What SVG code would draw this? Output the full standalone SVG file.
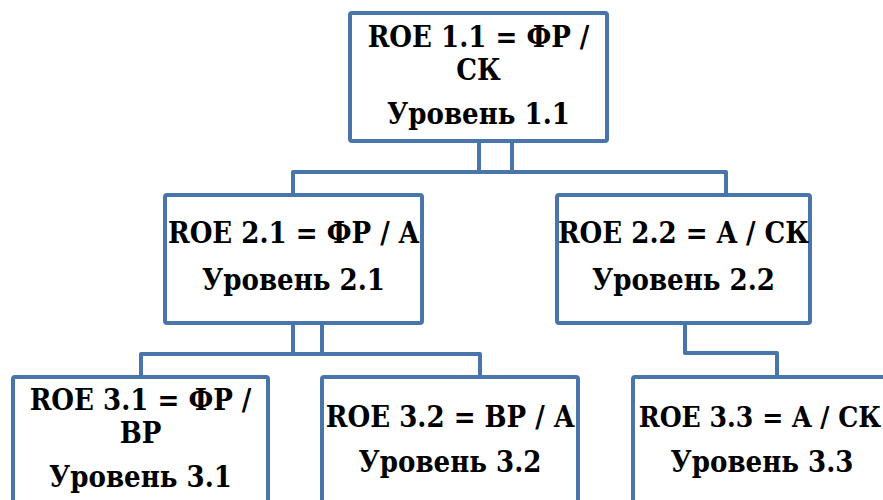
<svg xmlns="http://www.w3.org/2000/svg" width="883" height="500" viewBox="0 0 883 500">
  <style>
    .box { fill: #ffffff; stroke: #4a75ab; stroke-width: 4; }
    .link { fill: none; stroke: #4a75ab; stroke-width: 4; stroke-linejoin: round; }
    .t { font-family: 'DejaVu Serif', 'Liberation Serif', serif; font-stretch: condensed; font-weight: bold; font-size: 29px; fill: #000000; text-anchor: middle; }
  </style>
  <rect width="883" height="500" fill="#ffffff"/>

  <g id="connectors">
    <!-- level 1 to level 2 -->
    <path class="link" d="M479,141 V172 H293 V195"/>
    <path class="link" d="M512,141 V172 H726 V195"/>
    <path class="link" d="M479,172 H512"/>
    <!-- 2.1 to 3.1 / 3.2 -->
    <path class="link" d="M293,323 V354 H141 V377"/>
    <path class="link" d="M322,323 V354 H480 V377"/>
    <path class="link" d="M293,354 H322"/>
    <!-- 2.2 to 3.3 -->
    <path class="link" d="M685,323 V353 H777 V377"/>
  </g>

  <g id="node-1-1">
    <rect class="box" x="350" y="13" width="257" height="128" rx="2"/>
    <text class="t" x="478.5" y="47">ROE 1.1 = ФР /</text>
    <text class="t" x="478.5" y="80">СК</text>
    <text class="t" x="478.5" y="124">Уровень 1.1</text>
  </g>

  <g id="node-2-1">
    <rect class="box" x="165" y="195" width="257" height="128" rx="2"/>
    <text class="t" x="293.5" y="243">ROE 2.1 = ФР / A</text>
    <text class="t" x="293.5" y="290">Уровень 2.1</text>
  </g>

  <g id="node-2-2">
    <rect class="box" x="557" y="195" width="253" height="128" rx="2"/>
    <text class="t" x="683.5" y="243">ROE 2.2 = A / СК</text>
    <text class="t" x="683.5" y="290">Уровень 2.2</text>
  </g>

  <g id="node-3-1">
    <rect class="box" x="13" y="377" width="255" height="140" rx="2"/>
    <text class="t" x="140.5" y="410">ROE 3.1 = ФР /</text>
    <text class="t" x="140.5" y="443">BP</text>
    <text class="t" x="140.5" y="487">Уровень 3.1</text>
  </g>

  <g id="node-3-2">
    <rect class="box" x="322" y="377" width="256" height="140" rx="2"/>
    <text class="t" x="450" y="427">ROE 3.2 = BP / A</text>
    <text class="t" x="450" y="472">Уровень 3.2</text>
  </g>

  <g id="node-3-3">
    <rect class="box" x="633" y="377" width="258" height="140" rx="2"/>
    <text class="t" x="760" y="427" style="font-size:28px">ROE 3.3 = A / СК</text>
    <text class="t" x="762" y="472">Уровень 3.3</text>
  </g>
</svg>
